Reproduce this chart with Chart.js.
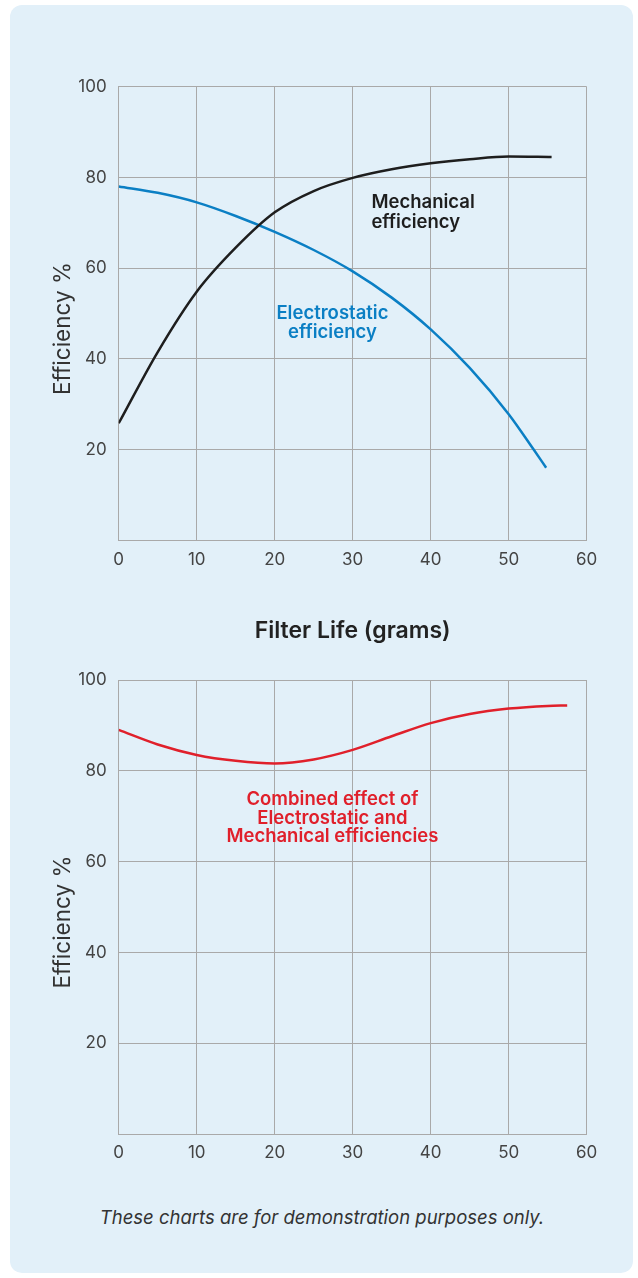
<!DOCTYPE html>
<html>
<head>
<meta charset="utf-8">
<script src="https://cdn.jsdelivr.net/npm/chart.js@4"></script>
<style>
  html, body { margin: 0; padding: 0; background: #ffffff; }
  body { width: 638px; height: 1278px; position: relative; overflow: hidden; font-family: Inter, "Open Sans", sans-serif; }
  #card { position: absolute; left: 10px; top: 5px; width: 623px; height: 1268px; border-radius: 12px; background: #e2f0f9; }
  #c1 { position: absolute; left: 0; top: 0; }
  #c2 { position: absolute; left: 0; top: 653px; }
  #note { position: absolute; left: 0; width: 644px; top: 1206px; text-align: center; font-style: italic; font-size: 18.5px; color: #333; }
</style>
</head>
<body>
<div id="card"></div>
<canvas id="c1" width="638" height="653"></canvas>
<canvas id="c2" width="638" height="517"></canvas>
<div id="note">These charts are for demonstration purposes only.</div>
<script>
// ---- data ----
const mechX = [0, 5, 10, 15, 20, 25, 30, 35, 40, 45, 50, 55.5];
const mechY = [25.8, 41.5, 54.8, 64.5, 72.3, 77, 79.9, 81.8, 83.1, 84, 84.6, 84.5];

const elecX = [0, 5, 10, 15, 20, 25, 30, 35, 40, 45, 50, 53.2, 54.8];
const elecY = [78, 76.6, 74.5, 71.5, 68, 64, 59.3, 53.5, 46.5, 38, 27.8, 20, 16];

const combX = [0, 5, 10, 15, 20, 25, 30, 35, 40, 45, 50, 55, 57.5];
const combY = [89, 85.8, 83.5, 82.2, 81.6, 82.5, 84.6, 87.6, 90.5, 92.5, 93.7, 94.3, 94.4];

const xTicks = [0, 10, 20, 30, 40, 50, 60];
const yTicks = [20, 40, 60, 80, 100];

const xTitle = 'Filter Life (grams)';
const yTitle = 'Efficiency %';
const mechLabel = ['Mechanical', 'efficiency'];
const elecLabel = ['Electrostatic', 'efficiency'];
const combLabel = ['Combined effect of', 'Electrostatic and', 'Mechanical efficiencies'];
// ---- end data ----

const FONT = 'Inter, "Open Sans", sans-serif';
const GRID = '#a9a9a9';
const TICKC = '#444444';

function pts(xs, ys) { return xs.map((x, i) => ({ x: x, y: ys[i] })); }

function labelsPlugin(items) {
  return {
    id: 'textLabels',
    afterDatasetsDraw(chart) {
      const ctx = chart.ctx;
      const xs = chart.scales.x, ys = chart.scales.y;
      ctx.save();
      items.forEach(it => {
        ctx.font = '600 18.5px ' + FONT;
        ctx.fillStyle = it.color;
        ctx.textAlign = it.align;
        ctx.textBaseline = 'middle';
        it.lines.forEach((t, i) => {
          ctx.fillText(t, xs.getPixelForValue(it.x), ys.getPixelForValue(it.y) + i * it.lh);
        });
      });
      const ca = chart.chartArea;
      ctx.font = '22.5px ' + FONT;
      ctx.fillStyle = '#333333';
      ctx.textAlign = 'center';
      ctx.textBaseline = 'middle';
      ctx.translate(63, (ca.top + ca.bottom) / 2 + 15);
      ctx.rotate(-Math.PI / 2);
      ctx.fillText(yTitle, 0, 0);
      ctx.restore();
    }
  };
}

function makeChart(id, datasets, padTop, axisH, withTitle, items) {
  return new Chart(document.getElementById(id), {
    type: 'line',
    data: { datasets: datasets },
    options: {
      responsive: false,
      animation: false,
      layout: { padding: { top: padTop, left: 0, right: 51.3, bottom: 0 } },
      plugins: { legend: { display: false }, tooltip: { enabled: false } },
      elements: { point: { radius: 0 }, line: { borderWidth: 2.5, cubicInterpolationMode: 'monotone' } },
      scales: {
        x: {
          type: 'linear', min: 0, max: 60,
          afterBuildTicks: s => { s.ticks = xTicks.map(v => ({ value: v })); },
          afterFit: s => { s.height = axisH; },
          grid: { color: GRID, drawTicks: false, lineWidth: 1 },
          border: { color: GRID, width: 1 },
          ticks: { color: TICKC, font: { family: FONT, size: 17 }, padding: 9 },
          title: withTitle ? { display: true, text: xTitle, color: '#222222', font: { family: FONT, size: 23, weight: '600' }, padding: { top: 0, bottom: 8 } } : { display: false }
        },
        y: {
          type: 'linear', min: 0, max: 100,
          afterBuildTicks: s => { s.ticks = [0].concat(yTicks).map(v => ({ value: v })); },
          afterFit: s => { s.width = 118.7; },
          grid: { color: GRID, drawTicks: false, lineWidth: 1 },
          border: { color: GRID, width: 1 },
          ticks: { color: TICKC, font: { family: FONT, size: 17 }, padding: 12, callback: v => (v === 0 ? '' : String(v)) }
        }
      }
    },
    plugins: [labelsPlugin(items)]
  });
}

makeChart('c1', [
  { data: pts(mechX, mechY), borderColor: '#1e1e1e' },
  { data: pts(elecX, elecY), borderColor: '#0b7fc4' }
], 86.7, 112.7, true, [
  { lines: mechLabel, x: 32.4, y: 74.5, lh: 20, color: '#1e1e1e', align: 'left' },
  { lines: elecLabel, x: 27.4, y: 50.1, lh: 19, color: '#0b7fc4', align: 'center' }
]);

makeChart('c2', [
  { data: pts(combX, combY), borderColor: '#e0202b' }
], 27, 36, false, [
  { lines: combLabel, x: 27.4, y: 73.7, lh: 18.7, color: '#e0202b', align: 'center' }
]);
</script>
</body>
</html>
